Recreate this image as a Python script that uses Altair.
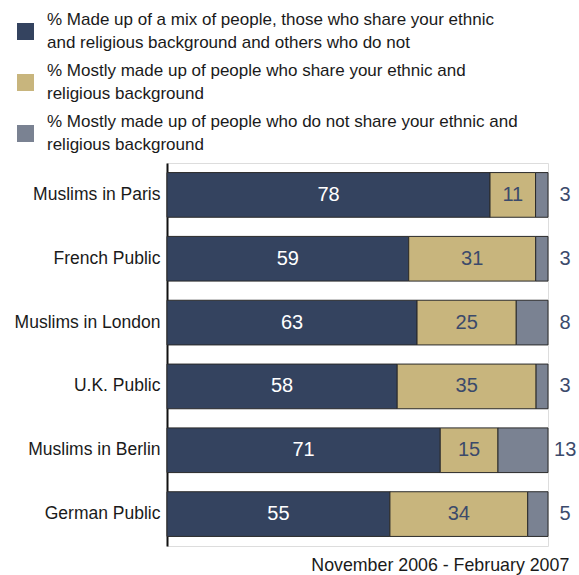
import altair as alt
import pandas as pd

groups = ["Muslims in Paris", "French Public", "Muslims in London",
          "U.K. Public", "Muslims in Berlin", "German Public"]
mix = [78, 59, 63, 58, 71, 55]
share = [11, 31, 25, 35, 15, 34]
notshare = [3, 3, 8, 3, 13, 5]
series = [
    "% Made up of a mix of people, those who share your ethnic|and religious background and others who do not",
    "% Mostly made up of people who share your ethnic and|religious background",
    "% Mostly made up of people who do not share your ethnic and|religious background",
]
colors = ["#34435F", "#C8B57D", "#7A8292"]
footer = "November 2006 - February 2007"

rows = []
for g, a, b, c in zip(groups, mix, share, notshare):
    total = a + b + c
    cum = 0
    for i, (s, v) in enumerate(zip(series, [a, b, c])):
        rows.append({"group": g, "series": s, "idx": i, "value": v,
                     "mid": (cum + v / 2) / total,
                     "inner": str(v) if i < 2 else "",
                     "outer": str(v) if i == 2 else ""})
        cum += v
df = pd.DataFrame(rows)

FONT = "Liberation Sans"

y = alt.Y("group:N", sort=groups, title=None,
          scale=alt.Scale(paddingInner=0.3, paddingOuter=0.15),
          axis=alt.Axis(domain=True, domainColor="#111111", domainWidth=2,
                        ticks=False, labelPadding=7, labelFontSize=17.5,
                        labelColor="#1a1a1a", labelFont=FONT, labelLimit=300,
                        labelBaseline="middle"))

bars = alt.Chart(df).mark_bar(stroke="#2a2a2a", strokeWidth=1).encode(
    x=alt.X("value:Q", stack="normalize", axis=None,
            scale=alt.Scale(domain=[0, 1], nice=False)),
    y=y,
    color=alt.Color("series:N", sort=series,
                    scale=alt.Scale(domain=series, range=colors),
                    legend=alt.Legend(
                        title=None, orient="none", legendX=-150, legendY=-140,
                        direction="vertical", symbolType="square",
                        symbolSize=289, symbolStrokeWidth=0,
                        labelFontSize=17, labelFont=FONT, labelColor="#1a1a1a",
                        labelLimit=600, labelOffset=13, rowPadding=10,
                        labelBaseline="line-bottom",
                        labelExpr="split(datum.label, '|')", padding=0)),
    order=alt.Order("idx:Q"),
)

inner = alt.Chart(df).transform_filter("datum.idx < 2").mark_text(
    fontSize=20, font=FONT, baseline="middle", align="center"
).encode(
    x=alt.X("mid:Q", scale=alt.Scale(domain=[0, 1], nice=False)),
    y=alt.Y("group:N", sort=groups),
    text="inner:N",
    color=alt.condition("datum.idx == 0", alt.value("white"), alt.value("#3B4A6B")),
)

outer = alt.Chart(df).transform_filter("datum.idx == 2").mark_text(
    fontSize=20, font=FONT, baseline="middle", align="center", color="#3B4A6B"
).encode(
    x=alt.datum(1.045),
    y=alt.Y("group:N", sort=groups),
    text="outer:N",
)

chart = alt.layer(bars, inner, outer).properties(
    width=381, height=383,
    autosize=alt.AutoSizeParams(type="none"),
    padding={"left": 167, "top": 163, "right": 31, "bottom": 29},
    title=alt.TitleParams(footer, orient="bottom", anchor="end", fontSize=17.8,
                          fontWeight="normal", font=FONT, color="#1a1a1a",
                          offset=11, dx=-7),
).configure_view(stroke=None).configure(
    background="white",
    style={"guide-label": {"lineHeight": 23}},
)

chart.save("out.html", embed_options={"renderer": "svg", "actions": False})
